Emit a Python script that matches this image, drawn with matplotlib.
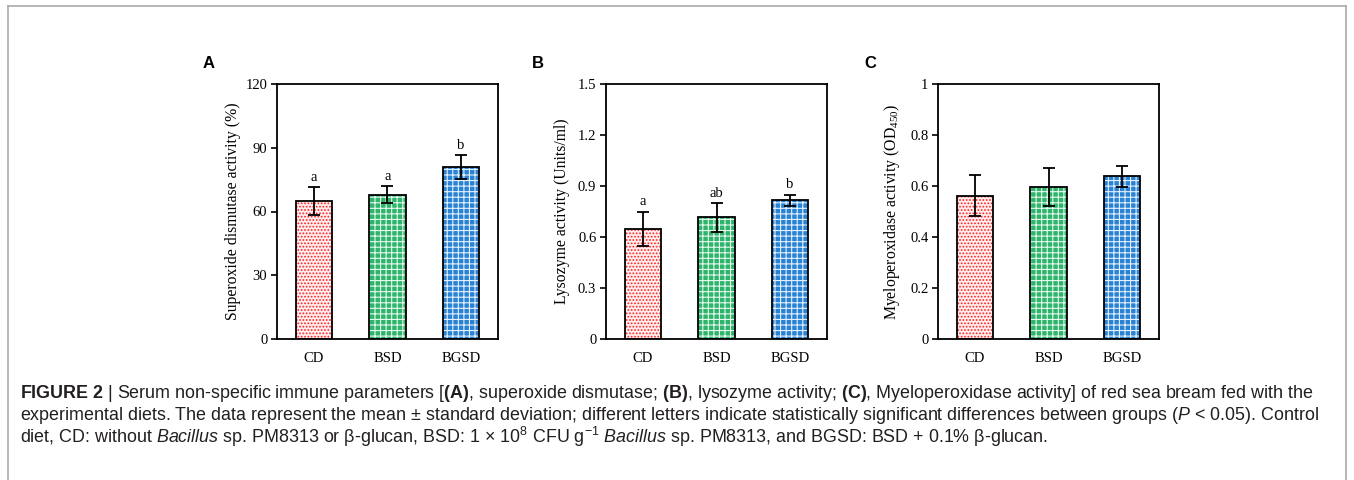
import numpy as np
import matplotlib.pyplot as plt
from matplotlib.lines import Line2D

plt.rcParams['mathtext.fontset'] = 'custom'
plt.rcParams['mathtext.rm'] = 'Liberation Sans'
plt.rcParams['mathtext.it'] = 'Liberation Sans:italic'
plt.rcParams['mathtext.bf'] = 'Liberation Sans:bold'
plt.rcParams['hatch.linewidth'] = 0.8

groups = ['CD', 'BSD', 'BGSD']

# superoxide dismutase (%)
sod_mean = [65, 68, 81]
sod_sd = [6.5, 4.0, 5.7]
sod_letters = ['a', 'a', 'b']

# lysozyme (Units/ml)
lyz_mean = [0.65, 0.715, 0.815]
lyz_sd = [0.10, 0.085, 0.035]
lyz_letters = ['a', 'ab', 'b']

# myeloperoxidase (OD450)
mpo_mean = [0.562, 0.595, 0.638]
mpo_sd = [0.081, 0.075, 0.040]
mpo_letters = ['', '', '']

face = ['#ffecec', '#2fb46b', '#2a82d2']
hatch_col = ['#ff1e1e', '#e6f8ee', '#e2effc']
hatches = ['.....', '+++', '+++']

panels = [
    ('A', sod_mean, sod_sd, sod_letters, 'Superoxide dismutase activity (%)',
     120, [0, 30, 60, 90, 120], ['0', '30', '60', '90', '120'], 277),
    ('B', lyz_mean, lyz_sd, lyz_letters, 'Lysozyme activity (Units/ml)',
     1.5, [0, 0.3, 0.6, 0.9, 1.2, 1.5], ['0', '0.3', '0.6', '0.9', '1.2', '1.5'], 606),
    ('C', mpo_mean, mpo_sd, mpo_letters, r'Myeloperoxidase activity (OD$\mathregular{_{450}}$)',
     1.0, [0, 0.2, 0.4, 0.6, 0.8, 1.0], ['0', '0.2', '0.4', '0.6', '0.8', '1'], 938),
]

W, H = 1354, 480
fig = plt.figure(figsize=(W / 100, H / 100), dpi=100)

serif = 'Liberation Serif'
x = np.arange(len(groups))

for tag, mean, sd, letters, ylab, ymax, yt, ytl, left in panels:
    ax = fig.add_axes([left / W, (H - 339) / H, 221 / W, 255 / H])
    for i in range(len(groups)):
        ax.bar(x[i], mean[i], width=0.49, color=face[i], edgecolor=hatch_col[i],
               hatch=hatches[i], linewidth=0, zorder=2)
        ax.bar(x[i], mean[i], width=0.49, fill=False, edgecolor='black',
               linewidth=1.3, zorder=3)
    ax.errorbar(x, mean, yerr=sd, fmt='none', ecolor='black', elinewidth=1.3,
                capsize=4, capthick=1.3, zorder=4)
    for i, lab in enumerate(letters):
        if lab:
            ax.text(x[i], mean[i] + sd[i] + ymax * 0.012, lab, ha='center', va='bottom',
                    family=serif, fontsize=10.5)
    ax.set_xlim(-0.5, 2.5)
    ax.set_ylim(0, ymax)
    ax.set_yticks(yt)
    ax.set_yticklabels(ytl, family=serif, fontsize=10.5)
    ax.set_xticks(x)
    ax.set_xticklabels(groups, family=serif, fontsize=10.5)
    ax.tick_params(axis='x', length=0, pad=9)
    ax.tick_params(axis='y', direction='out', length=4, width=1.2, pad=3)
    for s in ax.spines.values():
        s.set_linewidth(1.3)
    ax.set_ylabel(ylab, family=serif, fontsize=11.3)
    ax.yaxis.set_label_coords(-0.162, 0.5)
    fig.text((left - 74) / W, (H - 64) / H, tag, family='Liberation Sans',
             fontweight='bold', fontsize=12, ha='left', va='center')

# caption
cap = [
    r'$\mathbf{FIGURE\ 2}$ | Serum non-specific immune parameters [$\mathbf{(A)}$, superoxide dismutase; '
    r'$\mathbf{(B)}$, lysozyme activity; $\mathbf{(C)}$, Myeloperoxidase activity] of red sea bream fed with the',
    r'experimental diets. The data represent the mean ± standard deviation; different letters indicate '
    r'statistically significant differences between groups ($P$ < 0.05). Control',
    r'diet, CD: without $\mathit{Bacillus}$ sp. PM8313 or β-glucan, BSD: 1 × 10$^{8}$ CFU g$^{−1}$ '
    r'$\mathit{Bacillus}$ sp. PM8313, and BGSD: BSD + 0.1% β-glucan.',
]
for k, line in enumerate(cap):
    fig.text(20 / W, (H - 394 - 21.5 * k) / H, line, family='Liberation Sans',
             fontsize=12.9, color='#231f20', ha='left', va='center')

# outer frame
fc = '#aaaaaa'
fig.add_artist(Line2D([8 / W, 8 / W], [0, (H - 6) / H], color=fc, lw=1.2))
fig.add_artist(Line2D([8 / W, 1346 / W], [(H - 6) / H, (H - 6) / H], color=fc, lw=1.2))
fig.add_artist(Line2D([1346 / W, 1346 / W], [0, (H - 6) / H], color=fc, lw=1.2))

fig.savefig('out.png', dpi=100)
